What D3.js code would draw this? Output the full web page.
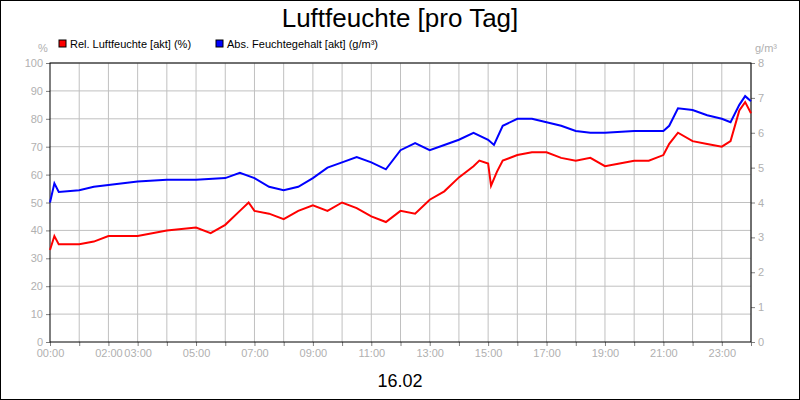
<!DOCTYPE html><html><head><meta charset="utf-8"><script src="https://cdn.jsdelivr.net/npm/d3@7"></script>
<style>body{margin:0;background:#fff}text{font-family:"Liberation Sans",Arial,sans-serif}</style></head><body><svg width="800" height="400"></svg>
<script>
const relHours=[0,0.15,0.3,1,1.5,2,3,4,5,5.5,6,6.5,6.8,7,7.5,8,8.5,9,9.5,10,10.5,11,11.5,12,12.5,13,13.5,14,14.5,14.7,15,15.1,15.3,15.5,16,16.5,17,17.5,18,18.5,19,19.5,20,20.5,21,21.2,21.5,22,22.5,23,23.3,23.6,23.8,24];
const relValues=[33,38,35,35,36,38,38,40,41,39,42,47,50,47,46,44,47,49,47,50,48,45,43,47,46,51,54,59,63,65,64,56,61,65,67,68,68,66,65,66,63,64,65,65,67,71,75,72,71,70,72,83,86,82];
const absHours=[0,0.15,0.3,1,1.5,2,3,4,5,6,6.5,7,7.5,8,8.5,9,9.5,10,10.5,11,11.5,12,12.5,13,13.5,14,14.5,15,15.2,15.5,16,16.5,17,17.5,18,18.5,19,20,21,21.2,21.5,22,22.5,23,23.3,23.6,23.8,24];
const absValues=[4.0,4.55,4.3,4.35,4.45,4.5,4.6,4.65,4.65,4.7,4.85,4.7,4.45,4.35,4.45,4.7,5.0,5.15,5.3,5.15,4.95,5.5,5.7,5.5,5.65,5.8,6.0,5.8,5.65,6.2,6.4,6.4,6.3,6.2,6.05,6.0,6.0,6.05,6.05,6.2,6.7,6.65,6.5,6.4,6.3,6.8,7.05,6.9];
const tickHours=[0,2,3,5,7,9,11,13,15,17,19,21,23];
const svg=d3.select("svg");
svg.append("rect").attr("x",0.5).attr("y",0.5).attr("width",799).attr("height",399).attr("fill","#fff").attr("stroke","#000");
const x=d3.scaleLinear().domain([0,24]).range([50,751]);
const yL=d3.scaleLinear().domain([0,100]).range([342,63]);
const yR=d3.scaleLinear().domain([0,8]).range([342,63]);
const g=svg.append("g");
g.selectAll(".vg").data(d3.range(1,25)).join("line").attr("x1",d=>x(d)).attr("x2",d=>x(d)).attr("y1",63).attr("y2",342).attr("stroke","#c0c0c0");
g.selectAll(".hg").data(d3.range(10,101,10)).join("line").attr("y1",d=>yL(d)).attr("y2",d=>yL(d)).attr("x1",50).attr("x2",751).attr("stroke","#c0c0c0");
const gray="#b0b0b0";
const ax=svg.append("g").attr("transform","translate(0,342)").call(d3.axisBottom(x).tickValues(d3.range(0,25)).tickSize(4).tickFormat(d=>tickHours.includes(d)?String(d).padStart(2,"0")+":00":""));
const al=svg.append("g").attr("transform","translate(50,0)").call(d3.axisLeft(yL).tickValues(d3.range(0,101,10)).tickSize(4));
const ar=svg.append("g").attr("transform","translate(751,0)").call(d3.axisRight(yR).tickValues(d3.range(0,9)).tickSize(4));
[ax,al,ar].forEach(a=>{a.select(".domain").remove();a.selectAll("line").attr("stroke","#808080");a.selectAll("text").attr("fill",gray).style("font-size","11px").style("font-family","Liberation Sans");});
svg.append("rect").attr("x",50).attr("y",63).attr("width",701).attr("height",279).attr("fill","none").attr("stroke","#000");
const lr=d3.line().x((d,i)=>x(relHours[i])).y(d=>yL(d));
const la=d3.line().x((d,i)=>x(absHours[i])).y(d=>yR(d));
svg.append("path").attr("d",la(absValues)).attr("fill","none").attr("stroke","#0000ff").attr("stroke-width",2);
svg.append("path").attr("d",lr(relValues)).attr("fill","none").attr("stroke","#ff0000").attr("stroke-width",2);
svg.append("text").attr("x",400).attr("y",27).attr("text-anchor","middle").style("font-size","26px").text("Luftfeuchte [pro Tag]");
svg.append("text").attr("x",400).attr("y",387).attr("text-anchor","middle").style("font-size","18px").text("16.02");
svg.append("text").attr("x",43).attr("y",52).attr("text-anchor","middle").attr("fill",gray).style("font-size","11px").text("%");
svg.append("text").attr("x",766).attr("y",52).attr("text-anchor","middle").attr("fill",gray).style("font-size","11px").text("g/m³");
[["Rel. Luftfeuchte [akt] (%)","#ff0000",59],["Abs. Feuchtegehalt [akt] (g/m³)","#0000ff",216]].forEach(([t,c,px])=>{
svg.append("rect").attr("x",px).attr("y",40).attr("width",7).attr("height",7).attr("fill",c).attr("stroke","#000");
svg.append("text").attr("x",px+11).attr("y",48).style("font-size","11px").text(t);});
</script></body></html>
